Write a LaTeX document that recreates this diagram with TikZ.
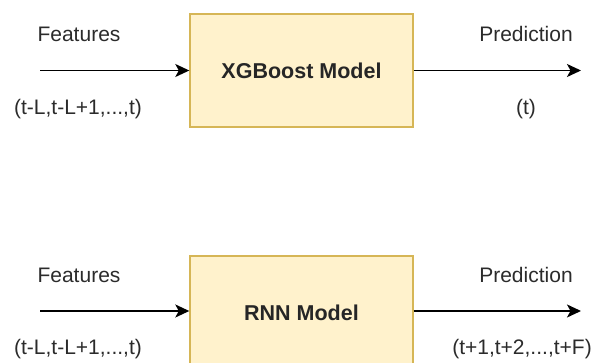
\documentclass[tikz,border=0pt]{standalone}
\usepackage{fontspec}
\setmainfont{Liberation Sans}
\usetikzlibrary{arrows.meta}
\definecolor{boxfill}{HTML}{FFF2CC}
\definecolor{boxline}{HTML}{D6B656}
\definecolor{labeltext}{HTML}{2B2B2B}
\tikzset{
  model/.style={draw=boxline, fill=boxfill, line width=1.4pt,
    minimum width=223pt, minimum height=113pt, inner sep=0pt,
    font=\fontsize{21.5}{25}\selectfont\bfseries, text=black!85},
  lbl/.style={inner sep=0pt, font=\fontsize{21}{25}\selectfont, text=labeltext},
  flow/.style={line width=1.6pt, -{Stealth[length=14pt, width=13pt, inset=3.5pt]}}
}
\begin{document}
\begin{tikzpicture}[x=1pt, y=-1pt]
  \useasboundingbox (0,0) rectangle (602,363);

  % upper pipeline
  \node[model] (xgb) at (301.5,70.5) {XGBoost Model};
  \coordinate (xin) at (40,70.5);
  \coordinate (xout) at (581,70.5);
  \draw[flow] (xin) -- (xgb.west);
  \draw[flow] (xgb.east) -- (xout);
  \node[lbl] (xfeat) at (79,34) {Features};
  \node[lbl] (xwin) at (78,109) {(t-L,t-L+1,...,t)};
  \node[lbl] (xpred) at (526,34) {Prediction};
  \node[lbl] (xstep) at (526,109) {(t)};

  % lower pipeline
  \node[model] (rnn) at (301.5,312.5) {RNN Model};
  \coordinate (rin) at (40,311);
  \coordinate (rout) at (581,311);
  \draw[flow] (rin) -- (rnn.west |- rin);
  \draw[flow] (rnn.east |- rout) -- (rout);
  \node[lbl] (rfeat) at (79,275) {Features};
  \node[lbl] (rwin) at (78,349) {(t-L,t-L+1,...,t)};
  \node[lbl] (rpred) at (526,275) {Prediction};
  \node[lbl] (rhor) at (522,349) {(t+1,t+2,...,t+F)};
\end{tikzpicture}
\end{document}
